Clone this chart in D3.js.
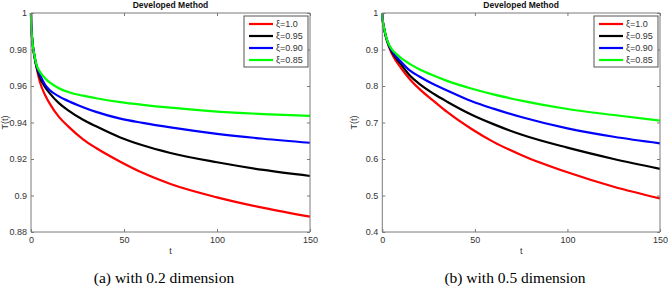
<!DOCTYPE html>
<html>
<head>
<meta charset="utf-8">
<script src="https://cdn.jsdelivr.net/npm/d3@7"></script>
<style>
  html, body { margin: 0; padding: 0; background: #fff; }
  svg { display: block; }
</style>
</head>
<body>
<svg id="chart" width="668" height="288"></svg>
<script>
// ---------------- data ----------------
const tValues = [0, 0.1, 0.3, 0.6, 1, 2, 3, 5, 7.5, 10, 15, 20, 28, 35, 48, 60, 75, 100, 125, 150];

// Panel (a): 0.2 dimension
const redA   = [1, 0.994, 0.990, 0.986, 0.982, 0.9752, 0.9700, 0.9615, 0.9552, 0.9505, 0.9431, 0.9379, 0.9308, 0.9260, 0.9185, 0.9124, 0.9063, 0.8990, 0.8932, 0.8884];
const blackA = [1, 0.994, 0.990, 0.986, 0.982, 0.9755, 0.9705, 0.9642, 0.9595, 0.9561, 0.9506, 0.9467, 0.9415, 0.9379, 0.9318, 0.9275, 0.9233, 0.9182, 0.9140, 0.9107];
const blueA  = [1, 0.994, 0.990, 0.986, 0.982, 0.9758, 0.9710, 0.9658, 0.9608, 0.9578, 0.9543, 0.9518, 0.9484, 0.9458, 0.9421, 0.9398, 0.9373, 0.9338, 0.9311, 0.9289];
const greenA = [1, 0.994, 0.990, 0.986, 0.982, 0.9760, 0.9715, 0.9675, 0.9643, 0.9620, 0.9588, 0.9567, 0.9547, 0.9533, 0.9512, 0.9497, 0.9481, 0.9460, 0.9446, 0.9436];

// Panel (b): 0.5 dimension
const redB   = [1, 0.986, 0.977, 0.967, 0.956, 0.933, 0.916, 0.890, 0.868, 0.850, 0.818, 0.792, 0.758, 0.729, 0.683, 0.647, 0.611, 0.5635, 0.524, 0.492];
const blackB = [1, 0.986, 0.977, 0.967, 0.957, 0.934, 0.918, 0.895, 0.876, 0.860, 0.828, 0.806, 0.778, 0.757, 0.722, 0.6955, 0.667, 0.631, 0.600, 0.573];
const blueB  = [1, 0.986, 0.977, 0.967, 0.957, 0.935, 0.919, 0.898, 0.881, 0.867, 0.842, 0.826, 0.804, 0.788, 0.759, 0.738, 0.715, 0.684, 0.661, 0.643];
const greenB = [1, 0.986, 0.977, 0.967, 0.958, 0.936, 0.920, 0.902, 0.888, 0.877, 0.860, 0.846, 0.828, 0.814, 0.793, 0.777, 0.760, 0.737, 0.7205, 0.705];

const seriesLabels = ["ξ=1.0", "ξ=0.95", "ξ=0.90", "ξ=0.85"];
const seriesColors = ["#ff0000", "#000000", "#0000ff", "#00ff00"];

const xTicks = [0, 50, 100, 150];
const yTicksA = [0.88, 0.9, 0.92, 0.94, 0.96, 0.98, 1];
const yTickLabelsA = ["0.88", "0.9", "0.92", "0.94", "0.96", "0.98", "1"];
const yTicksB = [0.4, 0.5, 0.6, 0.7, 0.8, 0.9, 1];
const yTickLabelsB = ["0.4", "0.5", "0.6", "0.7", "0.8", "0.9", "1"];

const titleText = "Developed Method";
const captions = ["(a) with 0.2 dimension", "(b) with 0.5 dimension"];

// ---------------- drawing ----------------
const svg = d3.select("#chart");
const axisColor = "#7a7a7a";
const textColor = "#333";
const sansFont = "'Liberation Sans', Arial, sans-serif";

function drawPanel(opt) {
  const { left, right, top, bottom, yDomain, yTicks, yLabels, series, caption, yLabelX, captionX } = opt;
  const x = d3.scaleLinear().domain([0, 150]).range([left, right]);
  const y = d3.scaleLinear().domain(yDomain).range([bottom, top]);
  const g = svg.append("g");

  g.append("rect").attr("x", left).attr("y", top).attr("width", right - left).attr("height", bottom - top)
    .attr("fill", "#fff");

  // curves
  const line = d3.line().x(d => x(d[0])).y(d => y(d[1])).curve(d3.curveMonotoneX);
  series.forEach((vals, i) => {
    const pts = tValues.map((t, k) => [t, vals[k]]);
    g.append("path").datum(pts).attr("d", line)
      .attr("fill", "none").attr("stroke", seriesColors[i]).attr("stroke-width", 2.2)
      .attr("stroke-linejoin", "round");
  });

  // axes (MATLAB-style box with inward ticks)
  const tickLen = 3;
  const axB = d3.axisBottom(x).tickValues(xTicks).tickSize(-tickLen).tickPadding(5).tickFormat(d3.format("d"));
  const axT = d3.axisTop(x).tickValues(xTicks).tickSize(-tickLen).tickFormat("");
  const axL = d3.axisLeft(y).tickValues(yTicks).tickSize(-tickLen).tickPadding(4).tickFormat((d, i) => yLabels[i]);
  const axR = d3.axisRight(y).tickValues(yTicks).tickSize(-tickLen).tickFormat("");

  const style = sel => {
    sel.selectAll(".domain").attr("stroke", axisColor).attr("stroke-width", 1);
    sel.selectAll(".tick line").attr("stroke", axisColor);
    sel.selectAll(".tick text").attr("fill", textColor).style("font-family", sansFont).style("font-size", "9px");
    sel.attr("font-size", null);
  };
  g.append("g").attr("transform", `translate(0,${bottom})`).call(axB).call(style).call(s => s.selectAll(".domain").attr("d", `M${left},0H${right}`));
  g.append("g").attr("transform", `translate(0,${top})`).call(axT).call(style).call(s => s.selectAll(".domain").attr("d", `M${left},0H${right}`));
  g.append("g").attr("transform", `translate(${left},0)`).call(axL).call(style).call(s => s.selectAll(".domain").attr("d", `M0,${top}V${bottom}`));
  g.append("g").attr("transform", `translate(${right},0)`).call(axR).call(style).call(s => s.selectAll(".domain").attr("d", `M0,${top}V${bottom}`));

  // title
  g.append("text").attr("x", (left + right) / 2).attr("y", 7.5).attr("text-anchor", "middle")
    .style("font-family", sansFont).style("font-size", "8.5px").style("font-weight", "bold").attr("fill", "#111")
    .text(titleText);

  // axis labels
  g.append("text").attr("x", (left + right) / 2).attr("y", 254).attr("text-anchor", "middle")
    .style("font-family", sansFont).style("font-size", "9px").attr("fill", textColor).text("t");
  g.append("text").attr("transform", `translate(${yLabelX},${(top + bottom) / 2}) rotate(-90)`)
    .attr("text-anchor", "middle").style("font-family", sansFont).style("font-size", "9px")
    .attr("fill", textColor).text("T(t)");

  // legend
  const lgW = 64, lgH = 51;
  const lgX = right - 2 - lgW, lgY = top + 3;
  const lg = g.append("g");
  lg.append("rect").attr("x", lgX).attr("y", lgY).attr("width", lgW).attr("height", lgH)
    .attr("fill", "#fff").attr("stroke", "#555").attr("stroke-width", 1);
  seriesLabels.forEach((lab, i) => {
    const yy = lgY + 8 + i * 12;
    lg.append("line").attr("x1", lgX + 5).attr("x2", lgX + 29).attr("y1", yy).attr("y2", yy)
      .attr("stroke", seriesColors[i]).attr("stroke-width", 2.2);
    lg.append("text").attr("x", lgX + 32).attr("y", yy + 3.2)
      .style("font-family", sansFont).style("font-size", "9px").attr("fill", textColor).text(lab);
  });

  // caption
  g.append("text").attr("x", captionX).attr("y", 283).attr("text-anchor", "middle")
    .style("font-family", "'Liberation Serif', 'Times New Roman', serif").style("font-size", "15.5px")
    .attr("fill", "#000").text(caption);
}

drawPanel({
  left: 31, right: 310, top: 13, bottom: 232,
  yDomain: [0.88, 1], yTicks: yTicksA, yLabels: yTickLabelsA,
  series: [redA, blackA, blueA, greenA],
  caption: captions[0], yLabelX: 8, captionX: 164
});
drawPanel({
  left: 382.3, right: 660, top: 13, bottom: 232,
  yDomain: [0.4, 1], yTicks: yTicksB, yLabels: yTickLabelsB,
  series: [redB, blackB, blueB, greenB],
  caption: captions[1], yLabelX: 357, captionX: 515
});
</script>
</body>
</html>
